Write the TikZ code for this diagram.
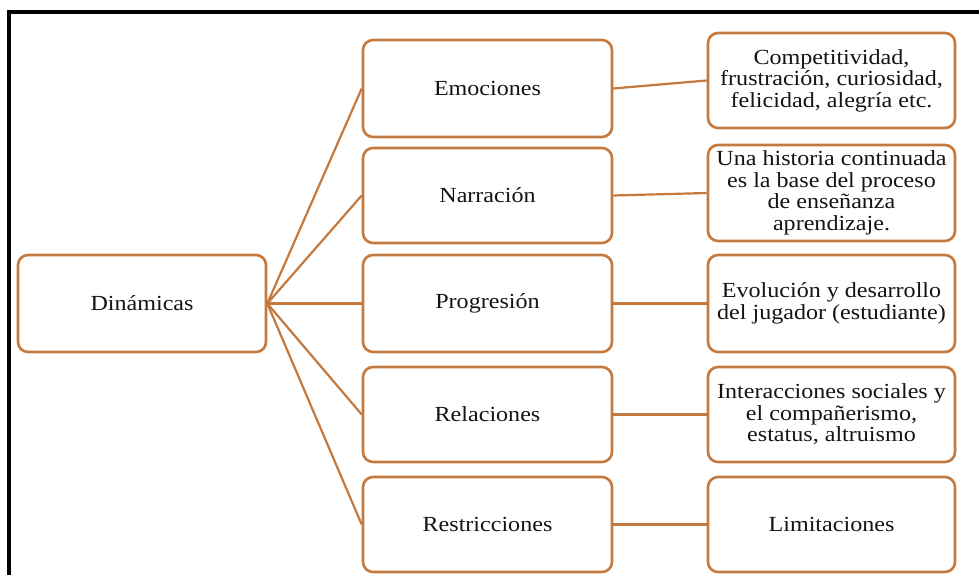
\documentclass[tikz,border=0pt]{standalone}
\usepackage{fontspec}
\setmainfont{Liberation Serif}[FakeStretch=1.12]
\definecolor{boxline}{RGB}{196,121,62}
\begin{document}
\begin{tikzpicture}[x=1pt,y=-1pt,
  card/.style={draw=boxline, line width=2.6pt, rounded corners=10pt, fill=white,
    inner sep=0pt, align=center, font=\fontsize{21.5}{21.5}\selectfont,
    minimum height=96pt, text=black!92},
  midcard/.style={card, minimum width=249pt},
  sidecard/.style={card, minimum width=247pt},
  link/.style={draw=boxline, line width=2.2pt}]
\useasboundingbox (0,0) rectangle (979,575);
% frame lines
\draw[line width=4pt, line cap=rect] (9,12) -- (979,12);
\draw[line width=4pt] (9,12) -- (9,575);
% root
\node[card, minimum width=248pt, minimum height=97pt] (din) at (142,303.5) {Dinámicas};
% middle column
\node[midcard, minimum height=97pt] (emo) at (487.5,88.5) {Emociones};
\node[midcard, minimum height=95pt] (nar) at (487.5,195.5) {Narración};
\node[midcard, minimum height=97pt] (pro) at (487.5,303.5) {Progresión};
\node[midcard, minimum height=95pt] (rel) at (487.5,414.5) {Relaciones};
\node[midcard, minimum height=95pt] (res) at (487.5,524.5) {Restricciones};
% right column
\node[sidecard, minimum height=95pt] (emoT) at (831.5,80.5) {Competitividad,\\frustración, curiosidad,\\felicidad, alegría etc.};
\node[sidecard, minimum height=96pt] (narT) at (831.5,193) {Una historia continuada\\es la base del proceso\\de enseñanza\\aprendizaje.};
\node[sidecard, minimum height=97pt] (proT) at (831.5,303.5) {Evolución y desarrollo\\del jugador (estudiante)};
\node[sidecard, minimum height=95pt] (relT) at (831.5,414.5) {Interacciones sociales y\\el compañerismo,\\estatus, altruismo};
\node[sidecard, minimum height=95pt] (resT) at (831.5,524.5) {Limitaciones};
% connectors
\foreach \m in {emo,nar,pro,rel,res}{
  \draw[link] (din.east) -- (\m.west);
  \draw[link] (\m.east) -- (\m T.west);
}
\end{tikzpicture}
\end{document}
